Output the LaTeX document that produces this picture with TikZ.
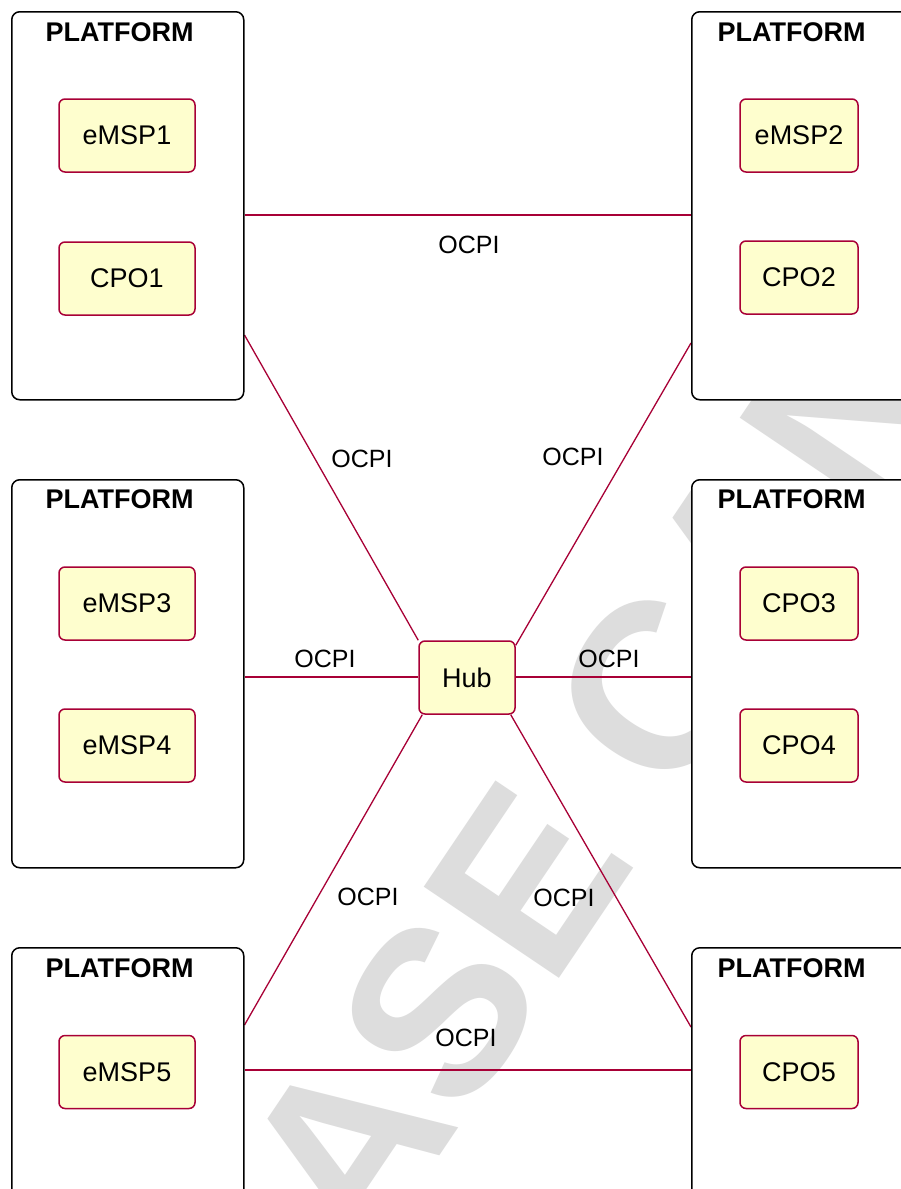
\documentclass[tikz,border=0pt]{standalone}
\usepackage{fontspec}
\setmainfont{Liberation Sans}
\usetikzlibrary{calc}
\definecolor{umlred}{HTML}{A80036}
\definecolor{umlfill}{HTML}{FEFECE}
\definecolor{wmgray}{RGB}{221,221,221}
\pgfdeclarelayer{wmlayer}
\pgfdeclarelayer{linklayer}
\pgfsetlayers{wmlayer,linklayer,main}
\tikzset{
  platform/.style={draw=black, line width=1.5pt, fill=white, rounded corners=8pt, anchor=north west, inner sep=0pt},
  ptitle/.style={font=\fontsize{27}{30}\selectfont\bfseries, inner sep=0pt, anchor=center},
  actor/.style={draw=umlred, line width=1.5pt, fill=umlfill, rounded corners=6pt, font=\fontsize{27}{30}\selectfont, inner sep=0pt, minimum height=73pt},
  leftactor/.style={actor, minimum width=136pt},
  rightactor/.style={actor, minimum width=118pt},
  link/.style={draw=umlred, line width=1.3pt},
  lbl/.style={font=\fontsize{25}{28}\selectfont, inner sep=0pt, anchor=center},
  watermark/.style={font=\fontsize{237}{240}\selectfont\bfseries, text=wmgray, inner sep=0pt, anchor=base west, rotate=56}
}
\begin{document}
\begin{tikzpicture}[x=1pt, y=-1pt]
\useasboundingbox (0,0) rectangle (901,1189);
\clip (0,0) rectangle (901,1189);
\begin{pgfonlayer}{wmlayer}
  \fill[white] (0,0) rectangle (901,1189);
  \node[watermark] (wm) at (12.8,1788.3) {RELEASE CANDIDATE};
\end{pgfonlayer}

% platforms
\node[platform, minimum width=232pt, minimum height=388pt] (pTL) at (11,11) {};
\node[platform, minimum width=260pt, minimum height=388pt] (pTR) at (691,11) {};
\node[platform, minimum width=232pt, minimum height=388pt] (pML) at (11,479) {};
\node[platform, minimum width=260pt, minimum height=388pt] (pMR) at (691,479) {};
\node[platform, minimum width=232pt, minimum height=300pt] (pBL) at (11,947) {};
\node[platform, minimum width=260pt, minimum height=300pt] (pBR) at (691,947) {};

\node[ptitle] (tTL) at (119.5,32) {PLATFORM};
\node[ptitle] (tTR) at (791.5,32) {PLATFORM};
\node[ptitle] (tML) at (119.5,499) {PLATFORM};
\node[ptitle] (tMR) at (791.5,499) {PLATFORM};
\node[ptitle] (tBL) at (119.5,968) {PLATFORM};
\node[ptitle] (tBR) at (791.5,968) {PLATFORM};

% actors
\node[leftactor] (emsp1) at (127,135.5) {eMSP1};
\node[leftactor] (cpo1) at (127,278.5) {CPO1};
\node[rightactor] (emsp2) at (799,135.5) {eMSP2};
\node[rightactor] (cpo2) at (799,277.5) {CPO2};
\node[leftactor] (emsp3) at (127,603.5) {eMSP3};
\node[leftactor] (emsp4) at (127,745.5) {eMSP4};
\node[rightactor] (cpo3) at (799,603.5) {CPO3};
\node[rightactor] (cpo4) at (799,745.5) {CPO4};
\node[leftactor] (emsp5) at (127,1072) {eMSP5};
\node[rightactor] (cpo5) at (799,1072) {CPO5};
\node[actor, minimum width=96pt] (hub) at (467,677.5) {Hub};

% links
\begin{pgfonlayer}{linklayer}
  \draw[link] (pTL.east |- 0,215) -- (pTR.west |- 0,215);
  \draw[link] (pTL.east |- 0,335) -- (hub.north west);
  \draw[link] (pTR.west |- 0,343) -- ($(hub.north east)+(0,5)$);
  \draw[link] (pML.east |- 0,677) -- (hub.west |- 0,677);
  \draw[link] (hub.east |- 0,677) -- (pMR.west |- 0,677);
  \draw[link] ($(hub.south west)+(4,0)$) -- (pBL.east |- 0,1025);
  \draw[link] ($(hub.south east)+(-5,0)$) -- (pBR.west |- 0,1027);
  \draw[link] (pBL.east |- 0,1070) -- (pBR.west |- 0,1070);
\end{pgfonlayer}

% labels
\node[lbl] (l1) at (469,245) {OCPI};
\node[lbl] (l2) at (362,459) {OCPI};
\node[lbl] (l3) at (573,457) {OCPI};
\node[lbl] (l4) at (325,659) {OCPI};
\node[lbl] (l5) at (609,659) {OCPI};
\node[lbl] (l6) at (368,897) {OCPI};
\node[lbl] (l7) at (564,898) {OCPI};
\node[lbl] (l8) at (466,1038) {OCPI};
\end{tikzpicture}
\end{document}
